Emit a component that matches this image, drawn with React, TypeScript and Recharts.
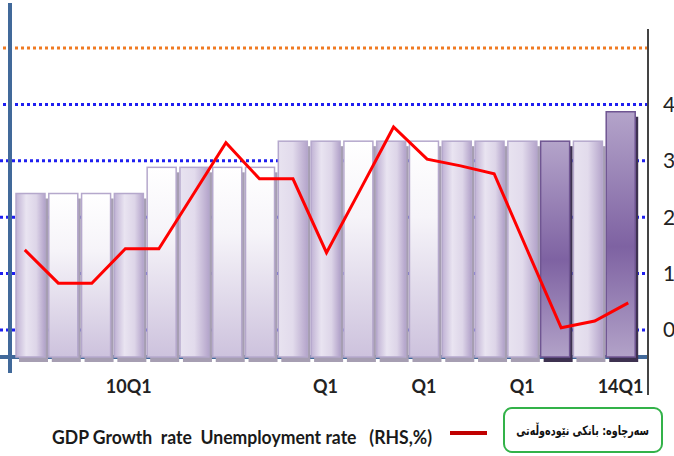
import React from 'react'
import { ComposedChart, Bar, Line, XAxis, YAxis, ReferenceLine, CartesianGrid } from 'recharts'

const quarters = [
  'q01', 'q02', 'q03', 'q04', 'q05', 'q06', 'q07', 'q08', 'q09', 'q10',
  'q11', 'q12', 'q13', 'q14', 'q15', 'q16', 'q17', 'q18', 'q19',
]
const tickLabels = ['', '', '', '10Q1', '', '', '', '', '', 'Q1', '', '', 'Q1', '', '', 'Q1', '', '', '14Q1']
const gdpGrowth = [5.0, 5.0, 5.0, 5.0, 5.8, 5.8, 5.8, 5.8, 6.6, 6.6, 6.6, 6.6, 6.6, 6.6, 6.6, 6.6, 6.6, 6.6, 7.5]
const unemployment = [1.42, 0.83, 0.83, 1.44, 1.44, 2.38, 3.32, 2.68, 2.68, 1.37, 2.48, 3.6, 3.03, 2.91, 2.77, 1.4, 0.04, 0.16, 0.48]
const rightTicks = [0, 1, 2, 3, 4]
const lowGrid = [0, 1, 2, 3]
const topGrid = 4
const orangeGrid = 5

const GDP_NAME = 'GDP Growth  rate'
const UNEMP_NAME = 'Unemployment rate   (RHS,%)'
const SOURCE = 'سەرچاوە: بانکی نێودەوڵەتی'

// fill style of each bar: A/B side-lit, V white top, D dark purple
const BAR_KINDS = ['A', 'V', 'V', 'A', 'V', 'B', 'V', 'V', 'B', 'A', 'V', 'A', 'V', 'A', 'A', 'B', 'D', 'B', 'D']

const data = quarters.map((q, i) => ({ q, gdp: gdpGrowth[i], unemp: unemployment[i] }))

const FONT = "Lato, 'Liberation Sans', sans-serif"

const BarShape = (props: any) => {
  const { x, y, width, height, index } = props
  const kind = BAR_KINDS[index]
  const dark = kind === 'D'
  return (
    <g>
      <rect x={x + 3} y={y + 5} width={width} height={height} fill={dark ? '#3d3150' : '#a69eb2'} />
      <rect
        x={x}
        y={y}
        width={width}
        height={height}
        fill={`url(#grad${kind})`}
        stroke={dark ? '#6f5592' : '#b5a8cc'}
        strokeWidth={1.5}
      />
    </g>
  )
}

const XTick = (props: any) => {
  const { x, y, payload } = props
  const label = tickLabels[payload.index]
  if (!label) return null
  return (
    <text x={x} y={y} dy="0.71em" textAnchor="middle" fontFamily={FONT} fontWeight="bold" fontSize={18} fill="#222">
      {label}
    </text>
  )
}

const gridShape = (color: string) => (p: any) => (
  <line x1={p.x1} y1={p.y1} x2={p.x2 - 26} y2={p.y2} stroke={color} strokeWidth={3} strokeDasharray="3 3" />
)

export default function App() {
  return (
    <div style={{ position: 'absolute', left: 0, top: 0, width: 674, height: 456, background: '#fff' }}>
      <ComposedChart width={674} height={400} data={data} margin={{ top: 30, right: 0, left: 0, bottom: 0 }}>
        <defs>
          <linearGradient id="gradA" x1="0" y1="0" x2="1" y2="0">
            <stop offset="0" stopColor="#c0b2d4" />
            <stop offset="0.35" stopColor="#e9e4f1" />
            <stop offset="0.7" stopColor="#ddd5e8" />
            <stop offset="1" stopColor="#b3a3ca" />
          </linearGradient>
          <linearGradient id="gradB" x1="0" y1="0" x2="1" y2="0">
            <stop offset="0" stopColor="#e8e3f0" />
            <stop offset="0.5" stopColor="#e2dbec" />
            <stop offset="1" stopColor="#b5a5cb" />
          </linearGradient>
          <linearGradient id="gradV" x1="0" y1="0" x2="0" y2="1">
            <stop offset="0" stopColor="#ffffff" />
            <stop offset="0.35" stopColor="#f6f4f9" />
            <stop offset="1" stopColor="#cdc2dd" />
          </linearGradient>
          <linearGradient id="gradD" x1="0" y1="0" x2="0" y2="1">
            <stop offset="0" stopColor="#b4a4ca" />
            <stop offset="0.55" stopColor="#7e62a2" />
            <stop offset="1" stopColor="#b2a2c8" />
          </linearGradient>
        </defs>
        <CartesianGrid
          yAxisId="rate"
          xAxisId="bars"
          vertical={false}
          horizontalValues={lowGrid}
          stroke="#1f1ff0"
          strokeWidth={3}
          strokeDasharray="3 3"
        />
        <CartesianGrid
          yAxisId="gdp"
          xAxisId="bars"
          vertical={false}
          horizontalValues={[0]}
          stroke="#41699a"
          strokeWidth={4}
        />
        <XAxis
          xAxisId="bars"
          dataKey="q"
          padding={{ left: 14, right: 11 }}
          height={43}
          tickLine={false}
          tickSize={6}
          tickMargin={17}
          axisLine={false}
          tick={<XTick />}
          interval={0}
        />
        <XAxis xAxisId="line" dataKey="q" hide padding={{ left: 8, right: 3 }} />
        <YAxis yAxisId="gdp" hide domain={[0, 10]} />
        <YAxis
          yAxisId="rate"
          orientation="right"
          width={26}
          domain={[-0.479, 5.319]}
          ticks={rightTicks}
          axisLine={false}
          tickLine={false}
          tickSize={6}
          tickMargin={9}
          tick={{ fontFamily: FONT, fontSize: 21, fill: '#222' }}
        />
        <ReferenceLine xAxisId="bars" yAxisId="rate" y={topGrid} shape={gridShape('#1f1ff0')} />
        <ReferenceLine xAxisId="bars" yAxisId="rate" y={orangeGrid} shape={gridShape('#f07a22')} />
        <Bar
          xAxisId="bars"
          yAxisId="gdp"
          dataKey="gdp"
          name={GDP_NAME}
          barSize={29}
          shape={<BarShape />}
          isAnimationActive={false}
        />
        <Line
          xAxisId="line"
          yAxisId="rate"
          dataKey="unemp"
          name={UNEMP_NAME}
          type="linear"
          stroke="#ff0000"
          strokeWidth={3}
          dot={false}
          activeDot={false}
          isAnimationActive={false}
        />
      </ComposedChart>

      <div style={{ position: 'absolute', left: 8, top: 3, width: 4, height: 370, background: '#41699a' }} />
      <div style={{ position: 'absolute', left: 647, top: 29, width: 1.5, height: 366, background: '#444' }} />

      <svg width={500} height={56} style={{ position: 'absolute', left: 0, top: 400 }}>
        <text
          x={52}
          y={44}
          fontFamily={FONT}
          fontWeight="bold"
          fontSize={19}
          fill="#1a1a1a"
          textLength={380}
          lengthAdjust="spacingAndGlyphs"
          style={{ whiteSpace: 'pre' }}
        >
          {GDP_NAME + '  ' + UNEMP_NAME}
        </text>
        <line x1={450} y1={33} x2={487} y2={33} stroke="#c00000" strokeWidth={4} />
      </svg>
      <div
        style={{
          position: 'absolute',
          left: 503,
          top: 407,
          width: 160,
          height: 46,
          boxSizing: 'border-box',
          border: '2px solid #33b249',
          borderRadius: 9,
          display: 'flex',
          alignItems: 'center',
          justifyContent: 'center',
          overflow: 'visible',
        }}
      >
        <span
          dir="rtl"
          style={{
            display: 'inline-block',
            whiteSpace: 'nowrap',
            fontFamily: "'DejaVu Sans', sans-serif",
            fontWeight: 'bold',
            fontSize: 13,
            color: '#111',
            transform: 'scaleX(0.74)',
            transformOrigin: 'center',
            flexShrink: 0,
          }}
        >
          {SOURCE}
        </span>
      </div>
    </div>
  )
}
